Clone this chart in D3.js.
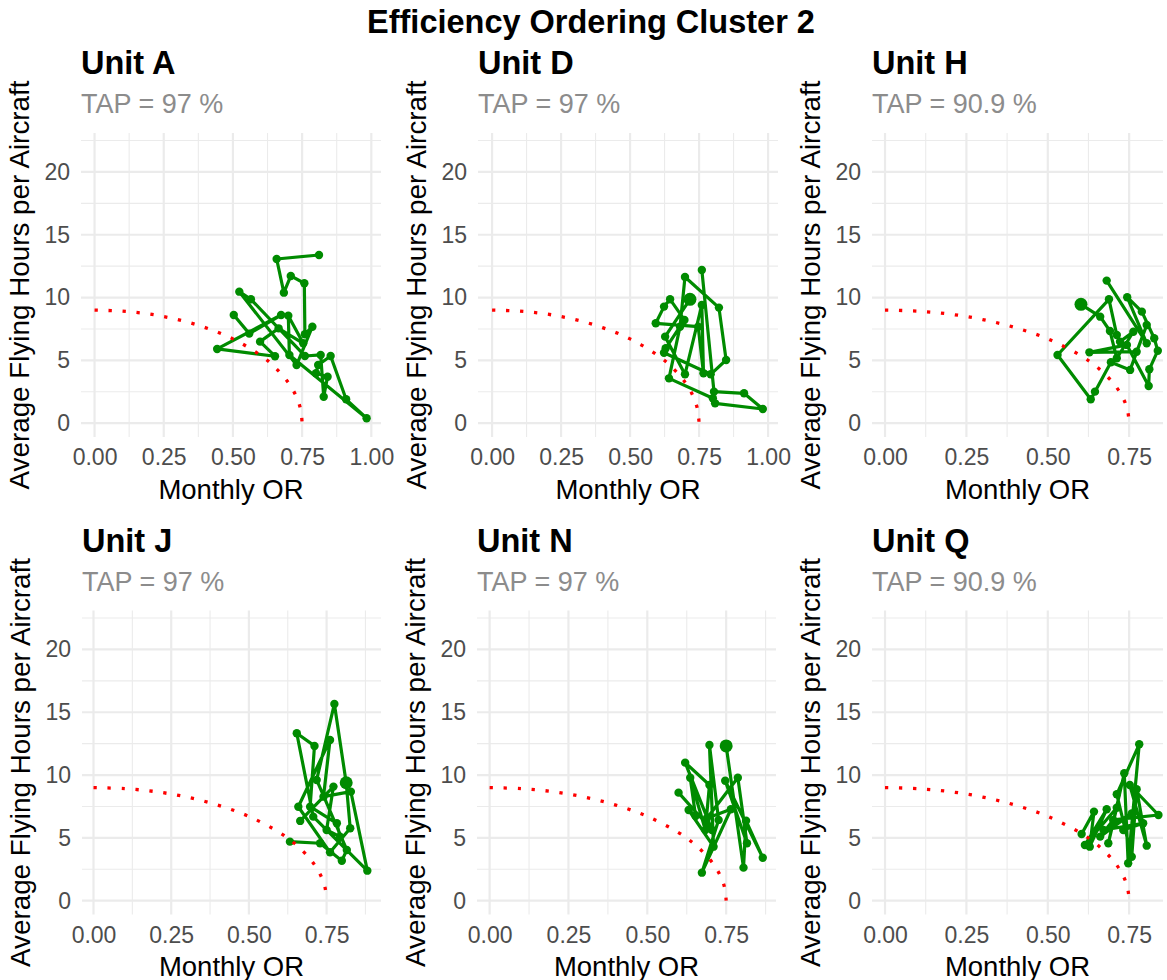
<!DOCTYPE html>
<html>
<head>
<meta charset="utf-8">
<script src="https://cdn.jsdelivr.net/npm/d3@7"></script>
<style>
  body { margin: 0; background: #fff; }
  text { font-family: "Liberation Sans", Arial, Helvetica, sans-serif; }
</style>
</head>
<body>
<div id="chart"></div>
<script>
// ---- data ----
const units = ["Unit A", "Unit D", "Unit H", "Unit J", "Unit N", "Unit Q"];
const tap = ["97", "97", "90.9", "97", "97", "90.9"];

const orA = [0.811, 0.658, 0.684, 0.709, 0.758, 0.760, 0.787, 0.730, 0.523, 0.565, 0.760, 0.817, 0.828, 0.842, 0.800, 0.808, 0.853, 0.909, 0.983, 0.704, 0.700, 0.754, 0.665, 0.598, 0.652, 0.443, 0.674, 0.559, 0.503];
const fhA = [13.39, 13.07, 10.39, 11.72, 11.14, 7.08, 7.68, 4.63, 10.47, 9.86, 5.35, 5.43, 2.11, 3.70, 3.97, 4.63, 5.35, 1.90, 0.39, 5.43, 8.56, 6.36, 7.55, 6.49, 5.33, 5.91, 8.61, 7.13, 8.61];

const orD = [0.760, 0.804, 0.913, 0.981, 0.808, 0.800, 0.641, 0.681, 0.699, 0.822, 0.848, 0.792, 0.623, 0.629, 0.697, 0.645, 0.623, 0.593, 0.747, 0.766, 0.760, 0.699, 0.627, 0.717];
const fhD = [12.20, 2.51, 2.38, 1.13, 1.58, 1.98, 3.57, 7.68, 11.64, 9.20, 5.03, 3.89, 5.61, 5.96, 8.22, 9.86, 9.28, 7.95, 7.68, 3.97, 9.41, 3.89, 6.89, 9.86];

const orH = [0.681, 0.804, 0.744, 0.789, 0.827, 0.838, 0.812, 0.810, 0.743, 0.628, 0.773, 0.804, 0.753, 0.694, 0.645, 0.632, 0.530, 0.688, 0.712, 0.722, 0.763, 0.712, 0.691, 0.661, 0.602];
const fhH = [11.35, 6.36, 10.03, 8.88, 6.76, 5.77, 4.29, 2.96, 6.23, 5.64, 5.69, 7.82, 4.24, 4.85, 2.51, 1.90, 5.43, 9.86, 7.02, 6.49, 7.28, 5.17, 7.34, 8.48, 9.46];

const orJ = [0.632, 0.729, 0.799, 0.815, 0.718, 0.775, 0.813, 0.826, 0.761, 0.659, 0.761, 0.740, 0.828, 0.881, 0.707, 0.654, 0.711, 0.697, 0.783, 0.793, 0.750, 0.772, 0.665];
const fhJ = [4.70, 4.57, 3.18, 4.04, 9.61, 15.66, 9.39, 5.76, 3.85, 7.48, 12.79, 8.28, 8.68, 2.39, 6.69, 13.33, 12.32, 7.48, 6.16, 5.10, 5.63, 9.08, 6.35];

const orN = [0.599, 0.705, 0.620, 0.697, 0.684, 0.636, 0.653, 0.631, 0.710, 0.697, 0.726, 0.673, 0.765, 0.689, 0.787, 0.816, 0.747, 0.866, 0.813, 0.805, 0.750];
const fhN = [8.60, 5.63, 10.99, 9.21, 5.63, 9.79, 6.74, 7.22, 4.30, 12.40, 6.43, 2.23, 7.28, 6.56, 9.79, 4.57, 9.55, 3.42, 6.37, 2.63, 12.32];

const orQ = [0.604, 0.642, 0.629, 0.681, 0.614, 0.712, 0.686, 0.735, 0.747, 0.781, 0.712, 0.758, 0.773, 0.804, 0.752, 0.840, 0.701, 0.661, 0.758, 0.671, 0.793, 0.732];
const fhQ = [5.31, 7.09, 4.30, 7.28, 4.43, 7.40, 4.57, 10.14, 2.98, 12.45, 8.47, 3.50, 8.87, 4.38, 9.21, 6.82, 6.43, 5.10, 6.95, 5.63, 6.16, 5.63];

// index of the enlarged point in each unit (-1 = none)
const largeIdx = [-1, 23, 24, 6, 20, -1];

// red dotted frontier
const frontierOR = [0, 0.1, 0.2, 0.3, 0.4, 0.5, 0.6, 0.65, 0.7, 0.73, 0.745, 0.75];
const frontierFH = [9.0, 8.92, 8.68, 8.25, 7.61, 6.71, 5.40, 4.49, 3.23, 2.07, 1.04, 0];

const yTicks = [0, 5, 10, 15, 20];
const xDomains = [[-0.049, 1.035], [-0.051, 1.036], [-0.04, 0.854], [-0.037, 0.925], [-0.04, 0.908], [-0.04, 0.854]];

const seriesOR = [orA, orD, orH, orJ, orN, orQ];
const seriesFH = [fhA, fhD, fhH, fhJ, fhN, fhQ];

// ---- layout ----
let width = 1167;
let height = 980;
let green = "#008B00";
let gridCol = "#EBEBEB";

let boxes = [
  { left: 81, right: 381, top: 133, bottom: 437 },
  { left: 478, right: 778, top: 133, bottom: 437 },
  { left: 872, right: 1163, top: 133, bottom: 437 },
  { left: 82, right: 381, top: 610.5, bottom: 914.5 },
  { left: 477, right: 776, top: 610.5, bottom: 914.5 },
  { left: 872, right: 1163, top: 610.5, bottom: 914.5 }
];

let svg = d3.select("#chart")
  .append("svg")
  .attr("width", width)
  .attr("height", height);

svg.append("text")
  .attr("x", 591)
  .attr("y", 33)
  .attr("text-anchor", "middle")
  .style("font-size", "32.5px")
  .style("font-weight", "bold")
  .text("Efficiency Ordering Cluster 2");

units.forEach((u, i) => drawPanel(i));

function drawPanel(i) {
  let b = boxes[i];
  let x = d3.scaleLinear().domain(xDomains[i]).range([b.left, b.right]);
  let y = d3.scaleLinear().domain([-1.1, 23.1]).range([b.bottom, b.top]);

  let g = svg.append("g");
  let clipId = "clip" + i;
  svg.append("clipPath").attr("id", clipId)
    .append("rect")
    .attr("x", b.left).attr("y", b.top)
    .attr("width", b.right - b.left).attr("height", b.bottom - b.top);

  // grid
  let dom = xDomains[i];
  let xMajor = d3.range(0, dom[1] + 1e-9, 0.25);
  let xMinor = xMajor.map(d => d + 0.125).filter(d => d < dom[1]);
  let yMinor = yTicks.map(d => d + 2.5);

  g.selectAll(".ymin").data(yMinor).enter().append("line")
    .attr("x1", b.left).attr("x2", b.right)
    .attr("y1", d => y(d)).attr("y2", d => y(d))
    .style("stroke", gridCol).style("stroke-width", 1.1);
  g.selectAll(".xmin").data(xMinor).enter().append("line")
    .attr("y1", b.top).attr("y2", b.bottom)
    .attr("x1", d => x(d)).attr("x2", d => x(d))
    .style("stroke", gridCol).style("stroke-width", 1.1);
  g.selectAll(".ymaj").data(yTicks).enter().append("line")
    .attr("x1", b.left).attr("x2", b.right)
    .attr("y1", d => y(d)).attr("y2", d => y(d))
    .style("stroke", gridCol).style("stroke-width", 2.2);
  g.selectAll(".xmaj").data(xMajor).enter().append("line")
    .attr("y1", b.top).attr("y2", b.bottom)
    .attr("x1", d => x(d)).attr("x2", d => x(d))
    .style("stroke", gridCol).style("stroke-width", 2.2);

  // axes (labels only)
  let xAxis = svg.append("g")
    .attr("transform", `translate(0,${b.bottom})`)
    .call(d3.axisBottom(x).tickValues(xMajor).tickFormat(d3.format(".2f")).tickSize(0).tickPadding(12));
  let yAxis = svg.append("g")
    .attr("transform", `translate(${b.left},0)`)
    .call(d3.axisLeft(y).tickValues(yTicks).tickSize(0).tickPadding(11));
  [xAxis, yAxis].forEach(a => {
    a.select(".domain").remove();
    a.selectAll("text")
      .style("font-size", "23px")
      .style("fill", "#4D4D4D")
      .style("font-family", '"Liberation Sans", Arial, sans-serif');
  });

  // titles
  svg.append("text")
    .attr("x", b.left).attr("y", b.top - 59)
    .style("font-size", "32.5px").style("font-weight", "bold")
    .text(units[i]);
  svg.append("text")
    .attr("x", b.left).attr("y", b.top - 19.7)
    .style("font-size", "27px").style("fill", "#8C8C8C")
    .text(`TAP = ${tap[i]} %`);
  svg.append("text")
    .attr("x", (b.left + b.right) / 2).attr("y", b.bottom + 61.5)
    .attr("text-anchor", "middle")
    .style("font-size", "27.5px")
    .text("Monthly OR");
  svg.append("text")
    .attr("transform", `translate(${b.left - 52},${(b.top + b.bottom) / 2}) rotate(-90)`)
    .attr("text-anchor", "middle")
    .style("font-size", "27.8px")
    .text("Average Flying Hours per Aircraft");

  // data
  let plot = svg.append("g").attr("clip-path", `url(#${clipId})`);
  let pts = seriesOR[i].map((v, k) => ({ or: v, fh: seriesFH[i][k], big: k === largeIdx[i] }));

  let line = d3.line().x(d => x(d.or)).y(d => y(d.fh));
  plot.append("path")
    .datum(pts)
    .attr("d", line)
    .style("fill", "none")
    .style("stroke", green)
    .style("stroke-width", 3.2)
    .style("stroke-linejoin", "round");

  plot.selectAll("circle")
    .data(pts)
    .enter()
    .append("circle")
    .attr("cx", d => x(d.or))
    .attr("cy", d => y(d.fh))
    .attr("r", d => d.big ? 6.5 : 4.2)
    .style("fill", green);

  let frontier = frontierOR.map((v, k) => [v, frontierFH[k]]);
  plot.append("path")
    .attr("d", d3.line().x(d => x(d[0])).y(d => y(d[1])).curve(d3.curveCatmullRom)(frontier))
    .style("fill", "none")
    .style("stroke", "#FF0000")
    .style("stroke-width", 3.3)
    .style("stroke-dasharray", "3.3,10.7");
}
</script>
</body>
</html>
